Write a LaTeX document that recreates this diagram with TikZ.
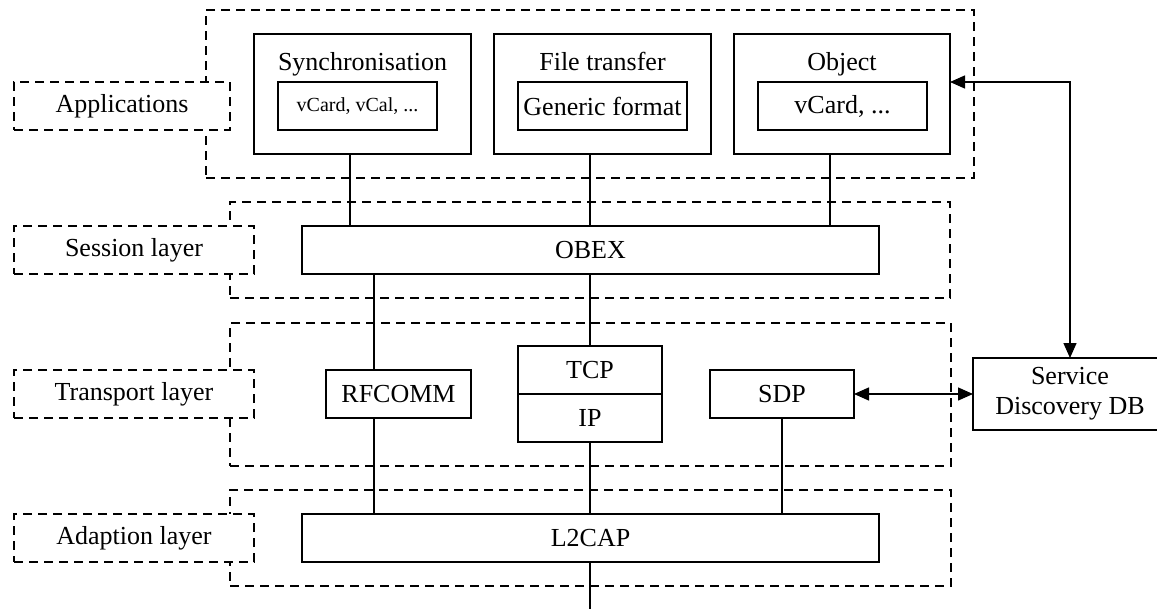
\documentclass[tikz,border=0pt]{standalone}
\usepackage{fontspec}
\setmainfont{Liberation Serif}
\usetikzlibrary{arrows.meta}
\begin{document}
\begin{tikzpicture}[x=1pt,y=-1pt,
  every node/.style={inner sep=0pt, outer sep=0pt, font=\fontsize{26}{30}\selectfont},
  layer/.style={draw, dashed, dash pattern=on 9pt off 6pt, line width=1.2pt},
  lbl/.style={layer, fill=white},
  blk/.style={draw, line width=1.4pt, fill=white},
  small/.style={font=\fontsize{20}{24}\selectfont},
  conn/.style={line width=1.4pt},
  arr/.style={line width=1.4pt, {Triangle[length=15pt,width=13pt]}-{Triangle[length=15pt,width=13pt]}}
]
\useasboundingbox (0,0) rectangle (1157,608);
% layer regions
\node[layer, minimum width=768pt, minimum height=168pt] (appreg) at (590,94) {};
\node[layer, minimum width=720pt, minimum height=96pt] (sesreg) at (590,250) {};
\node[layer, minimum width=721pt, minimum height=143pt] (trreg) at (590.5,394.5) {};
\node[layer, minimum width=721pt, minimum height=96pt] (adreg) at (590.5,538) {};
% layer labels
\node[lbl, minimum width=216pt, minimum height=48pt] (applbl) at (122,106) {Applications};
\node[lbl, minimum width=240pt, minimum height=48pt] (seslbl) at (134,250) {Session layer};
\node[lbl, minimum width=240pt, minimum height=48pt] (trlbl) at (134,394) {Transport layer};
\node[lbl, minimum width=240pt, minimum height=48pt] (adlbl) at (134,538) {Adaption layer};
% applications
\node[blk, minimum width=217pt, minimum height=120pt] (sync) at (362.5,94) {};
\node[anchor=base] (synct) at (362.5,70) {Synchronisation};
\node[blk, small, minimum width=159pt, minimum height=48pt] (syncin) at (357.5,106) {vCard, vCal, ...};
\node[blk, minimum width=217pt, minimum height=120pt] (ft) at (602.5,94) {};
\node[anchor=base] (ftt) at (602.5,70) {File transfer};
\node[blk, minimum width=169pt, minimum height=48pt] (ftin) at (602.5,106) {Generic format};
\node[blk, minimum width=216pt, minimum height=120pt] (obj) at (842,94) {};
\node[anchor=base] (objt) at (842,70) {Object};
\node[blk, minimum width=169pt, minimum height=48pt] (objin) at (842.5,106) {vCard, ...};
% session
\node[blk, minimum width=577pt, minimum height=48pt] (obex) at (590.5,250) {OBEX};
% transport
\node[blk, minimum width=145pt, minimum height=48pt] (rfcomm) at (398.5,394) {RFCOMM};
\node[blk, minimum width=144pt, minimum height=48pt] (tcp) at (590,370) {TCP};
\node[blk, minimum width=144pt, minimum height=48pt] (ip) at (590,418) {IP};
\node[blk, minimum width=144pt, minimum height=48pt] (sdp) at (782,394) {SDP};
\node[blk, minimum width=194pt, minimum height=72pt, align=center] (sdb) at (1070,394) {Service\\Discovery DB};
% adaption
\node[blk, minimum width=577pt, minimum height=48pt] (l2cap) at (590.5,538) {L2CAP};
\coordinate (out) at (590,612);
% connectors
\draw[conn] ([xshift=-12.5pt]sync.south) -- ([xshift=-12.5pt]sync.south |- obex.north);
\draw[conn] ([xshift=-12.5pt]ft.south) -- ([xshift=-12.5pt]ft.south |- obex.north);
\draw[conn] ([xshift=-12pt]obj.south) -- ([xshift=-12pt]obj.south |- obex.north);
\draw[conn] ([xshift=-24.5pt]rfcomm.north) -- ([xshift=-24.5pt]rfcomm.north |- obex.south);
\draw[conn] (tcp.north) -- (tcp.north |- obex.south);
\draw[conn] ([xshift=-24.5pt]rfcomm.south) -- ([xshift=-24.5pt]rfcomm.south |- l2cap.north);
\draw[conn] (ip.south) -- (ip.south |- l2cap.north);
\draw[conn] (sdp.south) -- (sdp.south |- l2cap.north);
\draw[conn] (ip.south |- l2cap.south) -- (out);
\draw[arr] (obj.east |- objin.north) -| (sdb.north);
\draw[arr] (sdp.east) -- (sdb.west);
\end{tikzpicture}
\end{document}
